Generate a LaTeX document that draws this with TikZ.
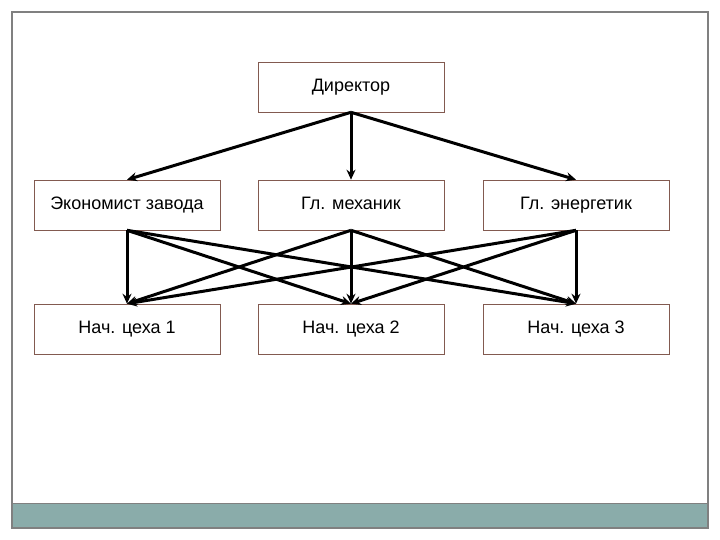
\documentclass[tikz,border=0pt]{standalone}
\usepackage{fontspec}
\setmainfont{Liberation Sans}
\usetikzlibrary{arrows.meta}
\definecolor{boxline}{RGB}{130,90,80}
\definecolor{framegray}{RGB}{128,128,128}
\definecolor{barteal}{RGB}{138,172,170}
\begin{document}
\begin{tikzpicture}[x=1pt,y=-1pt,
  orgbox/.style={draw=boxline,line width=0.6pt,fill=white,minimum width=186pt,minimum height=50pt,inner sep=0pt,text height=12pt,text depth=3pt,font=\fontsize{18}{20}\selectfont},
  link/.style={line width=3pt,-{Stealth[length=10pt,width=9pt]}}]
\useasboundingbox (0,0) rectangle (720,540);
\fill[white] (0,0) rectangle (720,540);
\fill[barteal] (12,503) rectangle (708,528);
\draw[framegray,line width=1.4pt] (12,12) rectangle (708,528);
\draw[framegray,line width=0.8pt] (12,503) -- (708,503);
\node[orgbox] (dir) at (351,87) {Директор};
\node[orgbox] (eco) at (127,205) {Экономист завода};
\node[orgbox] (mech) at (351,205) {Гл. механик};
\node[orgbox] (ener) at (576,205) {Гл. энергетик};
\node[orgbox] (c1) at (127,329) {Нач. цеха 1};
\node[orgbox] (c2) at (351,329) {Нач. цеха 2};
\node[orgbox] (c3) at (576,329) {Нач. цеха 3};
\foreach \t in {eco,mech,ener}{\draw[link] (dir.south) -- (\t.north);}
\foreach \s in {eco,mech,ener}{\foreach \t in {c1,c2,c3}{\draw[link] (\s.south) -- (\t.north);}}
\end{tikzpicture}
\end{document}
